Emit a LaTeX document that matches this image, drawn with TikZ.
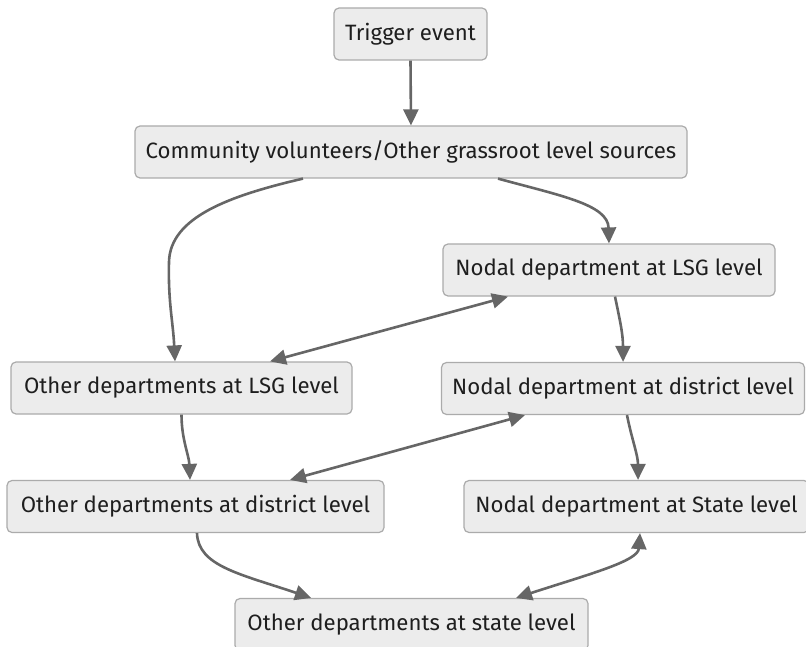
\documentclass[tikz,border=0pt]{standalone}
\usepackage{fontspec}
\setmainfont{Fira Sans}
\usetikzlibrary{arrows.meta}

\definecolor{boxfill}{HTML}{ECECEC}
\definecolor{boxline}{HTML}{ABABAB}
\definecolor{edgecol}{HTML}{666666}
\definecolor{txtcol}{HTML}{1E1E1E}

\tikzset{
  stepbox/.style={draw=boxline, line width=1.2pt, fill=boxfill, rounded corners=5pt,
    minimum height=52pt, inner sep=0pt, text=txtcol,
    font=\fontsize{22.2}{26}\selectfont},
  tip/.tip={Triangle[length=16pt,width=15pt]},
  flow/.style={draw=edgecol, line width=2.6pt, -tip},
  twoway/.style={draw=edgecol, line width=2.6pt, tip-tip},
}

\begin{document}
\begin{tikzpicture}[x=1pt,y=-1pt]
  \useasboundingbox (0,0) rectangle (806,647);

  % boxes
  \node[stepbox, minimum width=153pt] (trig)   at (410.5,34)  {Trigger event};
  \node[stepbox, minimum width=552pt] (comm)   at (411,152)   {Community volunteers/Other grassroot level sources};
  \node[stepbox, minimum width=332pt] (nlsg)   at (609,270)   {Nodal department at LSG level};
  \node[stepbox, minimum width=341pt] (olsg)   at (181.5,388) {Other departments at LSG level};
  \node[stepbox, minimum width=363pt] (ndist)  at (623,388.5) {Nodal department at district level};
  \node[stepbox, minimum width=377pt] (odist)  at (195.5,506.5) {Other departments at district level};
  \node[stepbox, minimum width=345pt] (nstate) at (636.5,506.5) {Nodal department at State level};
  \node[stepbox, minimum width=353pt] (ostate) at (411.5,624.5) {Other departments at state level};

  % turning point of the long left-hand connector
  \coordinate (bendA) at (169,262);

  % connectors
  \draw[flow] (trig.south) -- (comm.north);

  \draw[flow] ([xshift=-108pt]comm.south)
      .. controls +(-73,17) and +(1,-45) .. (bendA)
      .. controls +(-1,40) and +(-2,-40) .. ([xshift=-6.5pt]olsg.north);

  \draw[flow] ([xshift=87pt]comm.south)
      .. controls +(62,17) and +(-1,-39) .. (nlsg.north);

  \draw[twoway] ([xshift=-101pt]nlsg.south) -- ([xshift=88.5pt]olsg.north);

  \draw[flow] ([xshift=6pt]nlsg.south)
      .. controls +(5,24) and +(0,-28) .. (ndist.north);

  \draw[flow] ([xshift=0pt]olsg.south)
      .. controls +(0,25) and +(-1,-25) .. ([xshift=-5.5pt]odist.north);

  \draw[twoway] ([xshift=-98pt]ndist.south) -- ([xshift=94.5pt]odist.north);

  \draw[flow] ([xshift=4pt]ndist.south)
      .. controls +(5,25) and +(0,-25) .. ([xshift=1.5pt]nstate.north);

  \draw[flow] ([xshift=1.5pt]odist.south)
      .. controls +(1,33) and +(-71,-24) .. ([xshift=-100.5pt]ostate.north);

  \draw[twoway] ([xshift=3.5pt]nstate.south)
      .. controls +(-2,28) and +(74,-24) .. ([xshift=104.5pt]ostate.north);
\end{tikzpicture}
\end{document}
